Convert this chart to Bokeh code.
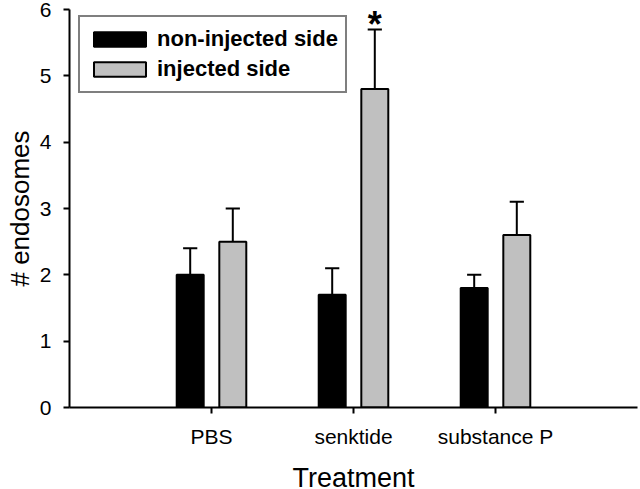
from bokeh.plotting import figure
from bokeh.models import ColumnDataSource, Range1d, FixedTicker, Legend, LegendItem
from bokeh.embed import file_html
from bokeh.resources import INLINE
from bokeh.core.properties import value

# ---- data ----
treatments = ["PBS", "senktide", "substance P"]
non_injected = [2.0, 1.7, 1.8]
non_injected_err = [0.4, 0.4, 0.2]
injected = [2.5, 4.8, 2.6]
injected_err = [0.5, 0.9, 0.5]
injected_mark = ["", "*", ""]
series_names = ["non-injected side", "injected side"]
y_ticks = [0, 1, 2, 3, 4, 5, 6]

# ---- styling / layout constants ----
OFFSET = 0.15
BAR_W = 0.19
CAP = 0.05
FONT = "Liberation Sans"

pos = [i + 1 for i in range(len(treatments))]

p = figure(width=644, height=507, output_backend="svg", toolbar_location=None,
           x_range=Range1d(0, len(treatments) + 1), y_range=Range1d(0, 6),
           min_border_left=73, min_border_right=3, min_border_top=13,
           min_border_bottom=96, margin=(-4, 0, 0, -4))
p.outline_line_color = None
p.grid.grid_line_color = None
p.background_fill_color = "white"
p.border_fill_color = "white"


def series(vals, errs, shift, color):
    xs = [x + shift for x in pos]
    src = ColumnDataSource(dict(
        x=xs, top=vals,
        hi=[v + e for v, e in zip(vals, errs)],
        x0=[x - CAP for x in xs], x1=[x + CAP for x in xs]))
    p.segment(x0="x", y0="top", x1="x", y1="hi", source=src,
              line_color="black", line_width=2)
    p.segment(x0="x0", y0="hi", x1="x1", y1="hi", source=src,
              line_color="black", line_width=2)
    r = p.vbar(x="x", top="top", bottom=0, width=BAR_W, source=src,
               fill_color=color, line_color="black", line_width=2)
    return r, src


r1, s1 = series(non_injected, non_injected_err, -OFFSET, "black")
r2, s2 = series(injected, injected_err, OFFSET, "#c0c0c0")

# significance marks
mark_src = ColumnDataSource(dict(
    x=[x + OFFSET for x in pos],
    y=[v + e for v, e in zip(injected, injected_err)],
    t=injected_mark))
p.text(x="x", y="y", text="t", source=mark_src,
       text_font=value(FONT), text_font_style="bold", text_font_size="36px",
       text_align="center", text_baseline="alphabetic", y_offset=-5,
       text_color="black")

legend = Legend(items=[LegendItem(label=series_names[0], renderers=[r1]),
                       LegendItem(label=series_names[1], renderers=[r2])],
                location=(9, 314))
legend.label_text_font = FONT
legend.label_text_font_style = "bold"
legend.label_text_font_size = "22px"
legend.label_text_color = "black"
legend.label_standoff = 5
legend.glyph_width = 65
legend.glyph_height = 18
legend.label_height = 30
legend.spacing = -1
legend.padding = 7
legend.margin = 0
legend.border_line_color = "black"
legend.border_line_width = 2
legend.background_fill_alpha = 1
p.add_layout(legend)

# axes
p.xaxis.ticker = FixedTicker(ticks=pos)
p.xaxis.major_label_overrides = {x: t for x, t in zip(pos, treatments)}
p.yaxis.ticker = FixedTicker(ticks=y_ticks)
for ax in (p.xaxis, p.yaxis):
    ax.axis_line_width = 2
    ax.axis_line_color = "black"
    ax.major_tick_line_width = 2
    ax.major_tick_line_color = "black"
    ax.major_tick_out = 6
    ax.major_tick_in = 0
    ax.minor_tick_line_color = None
    ax.major_label_text_font = FONT
    ax.major_label_text_font_size = "21px"
    ax.major_label_text_color = "black"
    ax.axis_label_text_font = FONT
    ax.axis_label_text_font_style = "normal"
    ax.axis_label_text_color = "black"

p.xaxis.axis_label = "Treatment"
p.xaxis.axis_label_text_font_size = "27px"
p.xaxis.major_label_standoff = 11
p.xaxis.axis_label_standoff = 12
p.yaxis.axis_label = "# endosomes"
p.yaxis.axis_label_text_font_size = "26px"
p.yaxis.major_label_standoff = 12
p.yaxis.axis_label_standoff = 2

open("out.html", "w").write(file_html(p, INLINE))
